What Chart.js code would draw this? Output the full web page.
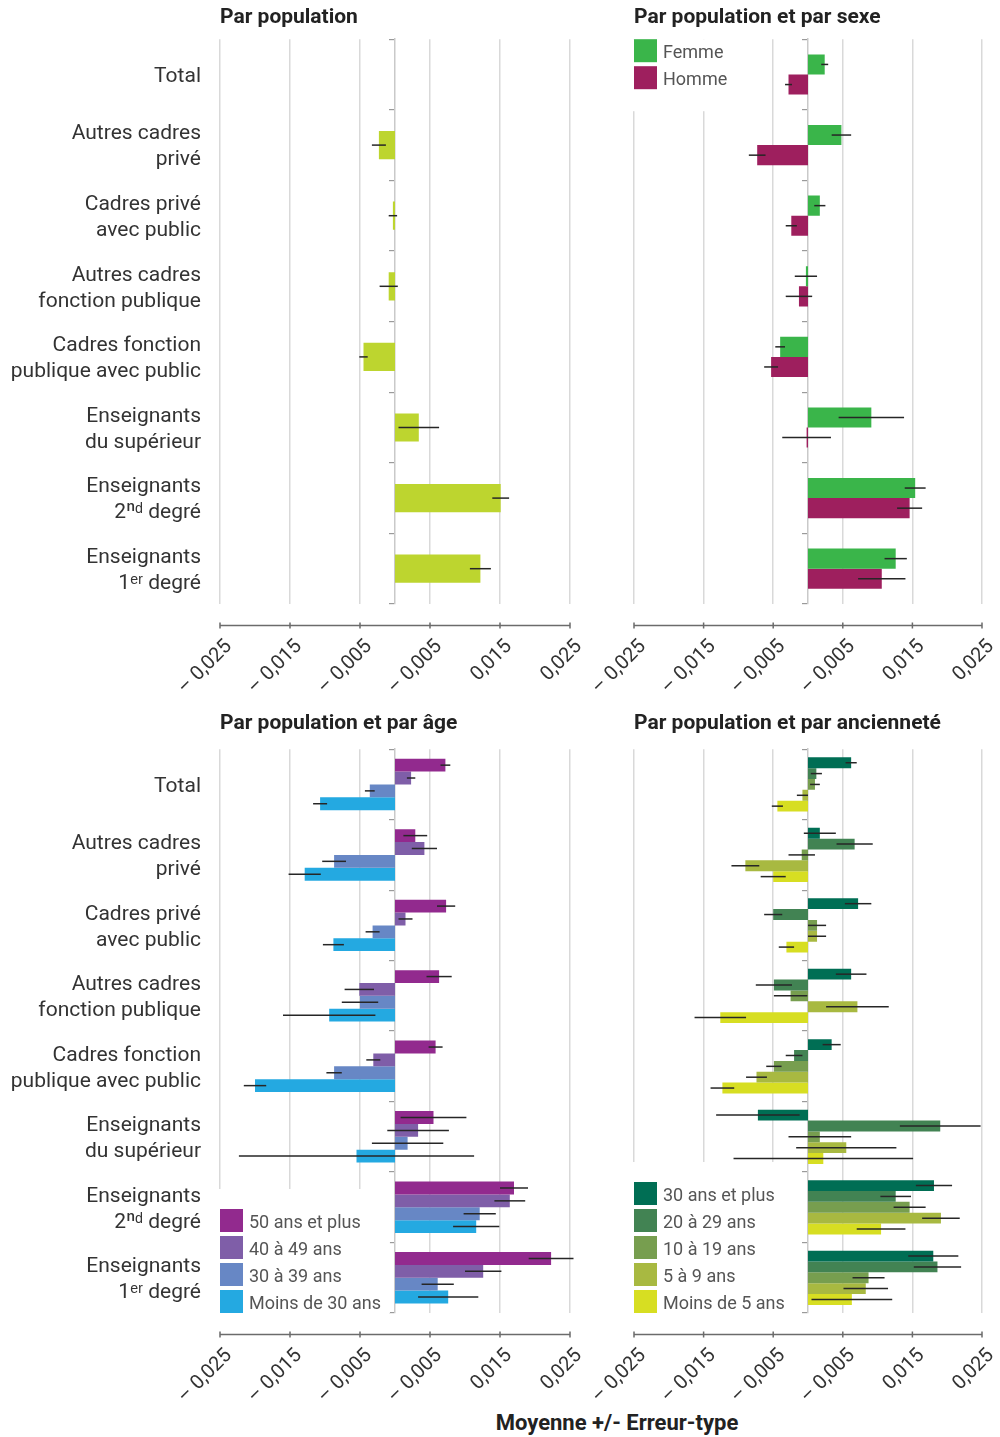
<!DOCTYPE html>
<html lang="fr">
<head>
<meta charset="utf-8">
<title>Moyenne +/- Erreur-type</title>
<script src="https://cdn.jsdelivr.net/npm/chart.js@4.4.1/dist/chart.umd.min.js"></script>
<style>
    html, body { margin: 0; padding: 0; background: #fff; }
    body { width: 1000px; height: 1437px; position: relative; overflow: hidden; font-family: Roboto, sans-serif; }
    canvas { position: absolute; }
    #p1 { left: 0; top: 0; }
    #p2 { left: 560px; top: 0; }
    #p3 { left: 0; top: 705px; }
    #p4 { left: 560px; top: 705px; }
    #xtitle {
        position: absolute; left: 417px; width: 400px; top: 1410px;
        text-align: center; line-height: 30px;
        font: bold 22px Roboto, sans-serif; color: #222;
    }
</style>
</head>
<body>
<canvas id="p1" width="600" height="700"></canvas>
<canvas id="p2" width="440" height="700"></canvas>
<canvas id="p3" width="600" height="704"></canvas>
<canvas id="p4" width="440" height="704"></canvas>
<div id="xtitle">Moyenne +/- Erreur-type</div>

<script>
// catégories (axe vertical)
const categories = [
    ['Total'],
    ['Autres cadres', 'privé'],
    ['Cadres privé', 'avec public'],
    ['Autres cadres', 'fonction publique'],
    ['Cadres fonction', 'publique avec public'],
    ['Enseignants', 'du supérieur'],
    ['Enseignants', '2ⁿᵈ degré'],
    ['Enseignants', '1ᵉʳ degré']
];

// graduations de l'axe horizontal
const tickValues = [-0.025, -0.015, -0.005, 0.005, 0.015, 0.025];
const tickLabels = ['– 0,025', '– 0,015', '– 0,005', '– 0,005', '0,015', '0,025'];

// Par population
const popMean = [null, -0.0023, -0.0003, -0.0009, -0.0045, 0.0034, 0.0151, 0.0122];
const popErr  = [null, 0.0010, 0.0006, 0.0013, 0.0006, 0.0029, 0.0012, 0.0015];

// Par population et par sexe
const sexLabels = ['Femme', 'Homme'];
const femmeMean = [0.0024, 0.0048, 0.0017, -0.0003, -0.0040, 0.0091, 0.0154, 0.0126];
const femmeErr  = [0.0005, 0.0014, 0.0008, 0.0016, 0.0007, 0.0047, 0.0015, 0.0016];
const hommeMean = [-0.0028, -0.0073, -0.0024, -0.0013, -0.0053, -0.0002, 0.0146, 0.0106];
const hommeErr  = [0.0005, 0.0012, 0.0008, 0.0019, 0.0010, 0.0035, 0.0018, 0.0034];

// Par population et par âge
const ageLabels = ['50 ans et plus', '40 à 49 ans', '30 à 39 ans', 'Moins de 30 ans'];
const age50Mean  = [0.0072, 0.0029, 0.0073, 0.0063, 0.0058, 0.0055, 0.0170, 0.0223];
const age50Err   = [0.0007, 0.0017, 0.0013, 0.0018, 0.0010, 0.0047, 0.0020, 0.0032];
const age40Mean  = [0.0023, 0.0042, 0.0015, -0.0051, -0.0031, 0.0033, 0.0164, 0.0126];
const age40Err   = [0.0006, 0.0018, 0.0010, 0.0021, 0.0010, 0.0044, 0.0022, 0.0026];
const age30Mean  = [-0.0036, -0.0087, -0.0032, -0.0050, -0.0087, 0.0018, 0.0121, 0.0061];
const age30Err   = [0.0007, 0.0017, 0.0010, 0.0026, 0.0011, 0.0051, 0.0023, 0.0023];
const ageU30Mean = [-0.0107, -0.0129, -0.0088, -0.0094, -0.0200, -0.0055, 0.0116, 0.0076];
const ageU30Err  = [0.0010, 0.0023, 0.0015, 0.0066, 0.0016, 0.0168, 0.0033, 0.0043];

// Par population et par ancienneté
const ancLabels = ['30 ans et plus', '20 à 29 ans', '10 à 19 ans', '5 à 9 ans', 'Moins de 5 ans'];
const anc30Mean = [0.0062, 0.0017, 0.0072, 0.0062, 0.0034, -0.0072, 0.0181, 0.0180];
const anc30Err  = [0.0008, 0.0023, 0.0019, 0.0022, 0.0013, 0.0060, 0.0026, 0.0036];
const anc20Mean = [0.0012, 0.0067, -0.0050, -0.0049, -0.0020, 0.0190, 0.0126, 0.0186];
const anc20Err  = [0.0008, 0.0026, 0.0013, 0.0026, 0.0012, 0.0058, 0.0022, 0.0034];
const anc10Mean = [0.0010, -0.0009, 0.0013, -0.0025, -0.0049, 0.0017, 0.0146, 0.0087];
const anc10Err  = [0.0007, 0.0019, 0.0013, 0.0024, 0.0011, 0.0045, 0.0023, 0.0023];
const anc5Mean  = [-0.0008, -0.0090, 0.0013, 0.0071, -0.0074, 0.0055, 0.0191, 0.0083];
const anc5Err   = [0.0008, 0.0020, 0.0013, 0.0045, 0.0015, 0.0072, 0.0027, 0.0032];
const ancU5Mean = [-0.0044, -0.0050, -0.0031, -0.0126, -0.0123, 0.0022, 0.0105, 0.0063];
const ancU5Err  = [0.0008, 0.0018, 0.0011, 0.0037, 0.0017, 0.0129, 0.0035, 0.0058];

const FONT = 'Roboto, sans-serif';

// barres d'erreur : moyenne +/- erreur-type
const errorBars = {
    id: 'errorBars',
    afterDatasetsDraw(chart) {
        const ctx = chart.ctx;
        const x = chart.scales.x;
        ctx.save();
        ctx.strokeStyle = '#262626';
        ctx.lineWidth = 1.5;
        chart.data.datasets.forEach(function(ds, i) {
            chart.getDatasetMeta(i).data.forEach(function(bar, j) {
                const v = ds.data[j], e = ds.errors[j];
                if (v == null || e == null) return;
                ctx.beginPath();
                ctx.moveTo(x.getPixelForValue(v - e), bar.y);
                ctx.lineTo(x.getPixelForValue(v + e), bar.y);
                ctx.stroke();
            });
        });
        ctx.restore();
    }
};

// légende dans la zone du graphique, sur fond blanc
const innerLegend = {
    id: 'innerLegend',
    beforeDatasetsDraw(chart, args, opts) {
        if (!opts.display) return;
        const ctx = chart.ctx;
        const area = chart.chartArea;
        const items = chart.data.datasets;
        const box = 23, step = 27;
        ctx.save();
        ctx.font = '18px ' + FONT;
        const textW = Math.max.apply(null, items.map(d => ctx.measureText(d.label).width));
        const w = box + 7 + textW + 8;
        let first, top, h;
        if (opts.align === 'end') {
            first = area.bottom - (items.length - 1) * step - box;
            top = first - 20;
            h = area.bottom - top;
        } else {
            first = area.top;
            top = area.top;
            h = (items.length - 1) * step + box + 22;
        }
        ctx.fillStyle = '#fff';
        ctx.fillRect(area.left - 2, top, w + 2, h);
        items.forEach(function(d, i) {
            const y = first + i * step;
            ctx.fillStyle = d.backgroundColor;
            ctx.fillRect(area.left, y, box, box);
            ctx.fillStyle = '#555';
            ctx.textBaseline = 'middle';
            ctx.fillText(d.label, area.left + box + 6, y + box / 2 + 2.5);
        });
        ctx.restore();
    }
};

// axe horizontal détaché sous la zone du graphique
const axisLine = {
    id: 'axisLine',
    afterDraw(chart) {
        const ctx = chart.ctx;
        const x = chart.scales.x;
        const y = chart.chartArea.bottom + 21.5;
        ctx.save();
        ctx.strokeStyle = '#6b6b6b';
        ctx.lineWidth = 1.5;
        ctx.beginPath();
        ctx.moveTo(x.getPixelForValue(x.min), y);
        ctx.lineTo(x.getPixelForValue(x.max), y);
        x.ticks.forEach(function(t) {
            const px = x.getPixelForValue(t.value);
            ctx.moveTo(px, y - 3);
            ctx.lineTo(px, y + 3);
        });
        ctx.stroke();
        ctx.restore();
    }
};

function makeDataset(label, data, errors, color) {
    return {
        label: label,
        data: data,
        errors: errors,
        backgroundColor: color,
        borderWidth: 0
    };
}

function buildPanel(id, title, datasets, opt) {
    new Chart(document.getElementById(id), {
        type: 'bar',
        data: { labels: categories, datasets: datasets },
        plugins: [errorBars, innerLegend, axisLine],
        options: {
            indexAxis: 'y',
            responsive: false,
            animation: false,
            layout: { padding: opt.padding },
            datasets: {
                bar: { categoryPercentage: opt.catPct, barPercentage: opt.barPct }
            },
            scales: {
                x: {
                    type: 'linear',
                    min: -0.025,
                    max: 0.025,
                    afterBuildTicks: function(scale) {
                        scale.ticks = tickValues.map(v => ({ value: v }));
                    },
                    grid: { color: '#d9d9d9', lineWidth: 1.5, drawTicks: false },
                    border: { display: false },
                    ticks: {
                        autoSkip: false,
                        minRotation: 45,
                        maxRotation: 45,
                        padding: 31,
                        labelOffset: 9,
                        color: '#333',
                        font: { family: FONT, size: 20 },
                        callback: function(value, index) {
                            return tickLabels[index];
                        }
                    },
                    afterFit: function(scale) {
                        scale.height = 96;
                        scale.paddingLeft = 0;
                        scale.paddingRight = 0;
                    }
                },
                y: {
                    type: 'category',
                    display: opt.showLabels,
                    grid: { display: false, drawTicks: false },
                    border: { display: false },
                    ticks: {
                        autoSkip: false,
                        padding: 19,
                        labelOffset: 2,
                        color: '#333',
                        font: { family: FONT, size: 21, lineHeight: 1.24 }
                    },
                    afterFit: function(scale) {
                        scale.width = opt.showLabels ? 220 : 0;
                        scale.paddingTop = 0;
                        scale.paddingBottom = 0;
                    }
                },
                // trait du zéro avec les repères de catégories
                yz: {
                    type: 'category',
                    position: { x: 0 },
                    offset: true,
                    grid: { offset: true, drawOnChartArea: false, tickLength: 5, color: '#9a9a9a', lineWidth: 1.2 },
                    border: { display: true, color: '#c9c9c9', width: 1.5 },
                    ticks: { display: false },
                    afterFit: function(scale) {
                        scale.paddingTop = 0;
                        scale.paddingBottom = 0;
                    }
                }
            },
            plugins: {
                legend: { display: false },
                tooltip: { enabled: false },
                title: {
                    display: true,
                    text: title,
                    align: 'start',
                    fullSize: false,
                    color: '#222',
                    font: { family: FONT, size: 21, weight: 'bold', lineHeight: 1.2 },
                    padding: opt.titlePad
                },
                innerLegend: { display: opt.legend !== null, align: opt.legend }
            }
        }
    });
}

document.addEventListener('DOMContentLoaded', function() {
    buildPanel('p1', 'Par population', [
        makeDataset('Par population', popMean, popErr, '#bdd52f')
    ], { padding: { left: 0, right: 30 }, catPct: 0.8, barPct: 0.5, showLabels: true, legend: null, titlePad: { top: 5, bottom: 9 } });

    buildPanel('p2', 'Par population et par sexe', [
        makeDataset(sexLabels[0], femmeMean, femmeErr, '#3ab54a'),
        makeDataset(sexLabels[1], hommeMean, hommeErr, '#9e1f5e')
    ], { padding: { left: 74, right: 18 }, catPct: 0.57, barPct: 1, showLabels: false, legend: 'start', titlePad: { top: 5, bottom: 9 } });

    buildPanel('p3', 'Par population et par âge', [
        makeDataset(ageLabels[0], age50Mean, age50Err, '#922a8e'),
        makeDataset(ageLabels[1], age40Mean, age40Err, '#7f5ea8'),
        makeDataset(ageLabels[2], age30Mean, age30Err, '#6787c5'),
        makeDataset(ageLabels[3], ageU30Mean, ageU30Err, '#24a9e1')
    ], { padding: { left: 0, right: 30 }, catPct: 0.73, barPct: 1, showLabels: true, legend: 'end', titlePad: { top: 6, bottom: 13 } });

    buildPanel('p4', 'Par population et par ancienneté', [
        makeDataset(ancLabels[0], anc30Mean, anc30Err, '#006e54'),
        makeDataset(ancLabels[1], anc20Mean, anc20Err, '#428353'),
        makeDataset(ancLabels[2], anc10Mean, anc10Err, '#779e4f'),
        makeDataset(ancLabels[3], anc5Mean, anc5Err, '#a8b941'),
        makeDataset(ancLabels[4], ancU5Mean, ancU5Err, '#d7de22')
    ], { padding: { left: 74, right: 18 }, catPct: 0.77, barPct: 1, showLabels: false, legend: 'end', titlePad: { top: 6, bottom: 13 } });
});
</script>
</body>
</html>
